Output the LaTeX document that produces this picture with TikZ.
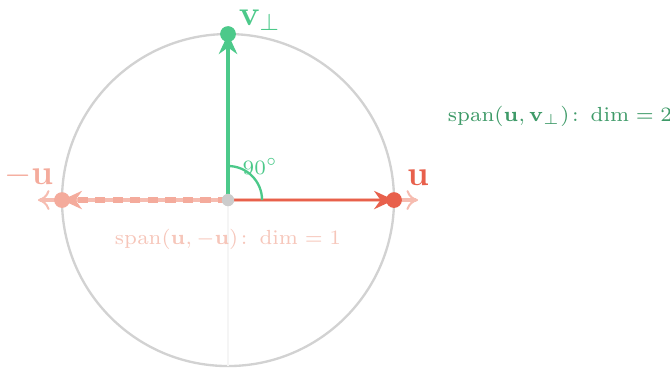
\documentclass[tikz,border=0pt]{standalone}
\usepackage{amsmath,amssymb,amsfonts}
\usepackage{xcolor}
\usepackage{tikz}
\usetikzlibrary{arrows.meta, positioning, calc}

\definecolor{vgreen}{HTML}{4CC98A}
\definecolor{spangreen}{HTML}{3E9A68}
\definecolor{ured}{HTML}{E8604C}
\definecolor{upink}{HTML}{F4AB9C}
\definecolor{spanpink}{HTML}{F6C6BA}

\begin{document}
\begin{tikzpicture}[
    dot/.style={circle, fill, inner sep=0pt, minimum size=0.19cm},
    vec/.style={line width=1.6pt, -{Stealth[length=2.4mm, width=2.2mm]}},
    lbl/.style={font=\large, inner sep=1pt},
    spanlbl/.style={font=\fontsize{7.3}{9}\selectfont},
]
\useasboundingbox (-2.747,-2.06) rectangle (5.325,2.41);

% unit circle and faint axis
\draw [gray!35, line width=0.8pt] (0,0) circle (2);
\coordinate (o) at (0,0);
\coordinate (bottom) at (0,-2);
\draw [gray!8, line width=0.6pt] (o) -- (bottom);

% span of u and -u
\coordinate (spanL) at (-2.29,0);
\coordinate (spanR) at (2.29,0);
\draw [upink!80, line width=1.6pt, {To[length=1.4mm, width=2.4mm, line width=0.7pt]}-{To[length=1.4mm, width=2.4mm, line width=0.7pt]}] (spanL) -- (spanR);

\coordinate (utip) at (2,0);
\coordinate (mtip) at (-2,0);
\coordinate (vtip) at (0,2);

% vectors
\draw [vec, upink, line width=2.2pt, dash pattern=on 3.5pt off 2.5pt] (o) -- (mtip);
\draw [vec, ured, line width=0.9pt] (o) -- (utip);
\draw [vec, vgreen] (o) -- (vtip);

% right angle
\draw [vgreen, line width=0.8pt] (0.41,0) arc (0:90:0.41);
\node [vgreen, font=\scriptsize] (ang) at (0.39,0.41) {$90^\circ$};

% dots
\node [dot, fill=gray!40, minimum size=0.15cm] (center) at (o) {};
\node [dot, fill=ured] (u) at (utip) {};
\node [dot, fill=upink] (mu) at (mtip) {};
\node [dot, fill=vgreen] (v) at (vtip) {};

% labels
\node [lbl, ured] (ulabel) at (2.29,0.27) {$\mathbf{u}$};
\node [lbl, upink] (mulabel) at (-2.40,0.29) {$-\mathbf{u}$};
\node [lbl, vgreen] (vlabel) at (0.38,2.17) {$\mathbf{v}_\perp$};
\node [spanlbl, spanpink] (span1) at (0,-0.48) {$\operatorname{span}(\mathbf{u},-\mathbf{u})\colon \dim=1$};
\node [spanlbl, spangreen] (span2) at (4.0,1.01) {$\operatorname{span}(\mathbf{u},\mathbf{v}_\perp)\colon \dim=2$};
\end{tikzpicture}
\end{document}
